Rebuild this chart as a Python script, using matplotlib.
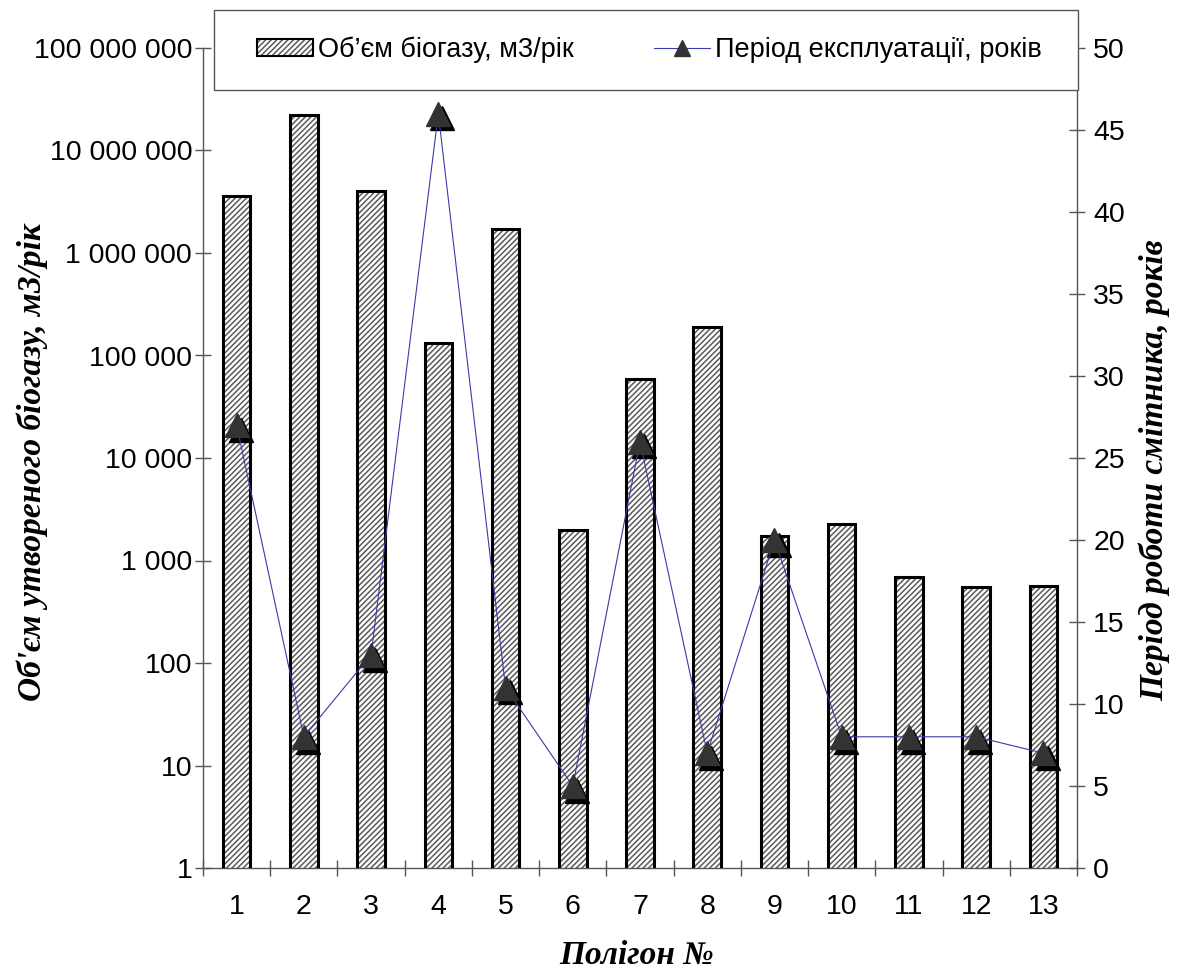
import matplotlib
matplotlib.use("Agg")
import matplotlib.pyplot as plt
import matplotlib.transforms as mtransforms
from matplotlib.ticker import FixedLocator, FuncFormatter, NullFormatter
from matplotlib.patches import Patch, Rectangle
from matplotlib.lines import Line2D
import numpy as np

# ---- data ----
polygons = [1, 2, 3, 4, 5, 6, 7, 8, 9, 10, 11, 12, 13]
biogas = [3.6e6, 2.2e7, 4.0e6, 1.32e5, 1.7e6, 2000, 5.9e4, 1.9e5, 1750, 2270, 690, 550, 565]
years = [27, 8, 13, 46, 11, 5, 26, 7, 20, 8, 8, 8, 7]

left_ticks = [1, 10, 100, 1000, 1e4, 1e5, 1e6, 1e7, 1e8]
right_ticks = [0, 5, 10, 15, 20, 25, 30, 35, 40, 45, 50]

bar_label = "Об’єм біогазу, м3/рік"
line_label = "Період експлуатації, років"
ylabel_left = "Об'єм утвореного біогазу, м3/рік"
ylabel_right = "Період роботи смітника, років"
xlabel = "Полігон №"

plt.rcParams['font.family'] = ['Liberation Sans', 'DejaVu Sans']
plt.rcParams['hatch.linewidth'] = 1.1

W, H = 1181, 971
fig = plt.figure(figsize=(W / 100, H / 100), dpi=100)
ax = fig.add_axes([203 / W, 1 - 868 / H, (1077 - 203) / W, (868 - 48) / H])
ax2 = ax.twinx()

axis_col = '#555555'
hatch_col = '#5a5a5a'
line_col = '#3a3aa8'
x = np.array(polygons)

# bars: hatch layer then black outline
ax.bar(x, biogas, width=0.41, bottom=0, facecolor='white', edgecolor=hatch_col,
       hatch='//////', linewidth=0, zorder=2)
ax.bar(x, biogas, width=0.41, bottom=0, fill=False, edgecolor='black',
       linewidth=2.2, zorder=3)
ax.set_yscale('log')
ax.set_ylim(1, 1e8)
ax.set_xlim(0.5, 13.5)

# line with shadowed markers
shadow_tr = mtransforms.offset_copy(ax2.transData, fig=fig, x=3.0, y=-3.5, units='points')
ax2.plot(x, years, linestyle='none', marker='^', markersize=17, color='black',
         transform=shadow_tr, zorder=3)
ax2.plot(x, years, color=line_col, linewidth=0.8, marker='^', markersize=17,
         markerfacecolor='#333333', markeredgecolor='#333333', zorder=4)
ax2.set_ylim(0, 50)

# spines
for a in (ax, ax2):
    a.spines['top'].set_visible(False)
    for s in ('left', 'right', 'bottom'):
        a.spines[s].set_color(axis_col)
        a.spines[s].set_linewidth(1.0)
ax.spines['right'].set_visible(False)
ax2.spines['left'].set_visible(False)
ax2.spines['bottom'].set_visible(False)

# ticks
tick_fs = 20.5
ax.yaxis.set_major_locator(FixedLocator(left_ticks))
ax.yaxis.set_minor_locator(FixedLocator([]))
ax.yaxis.set_major_formatter(FuncFormatter(lambda v, p: f"{int(round(v)):,}".replace(",", " ")))
ax.tick_params(axis='y', which='major', direction='inout', length=11.5, width=1,
               color=axis_col, labelsize=tick_fs, pad=2)
ax2.yaxis.set_major_locator(FixedLocator(right_ticks))
ax2.tick_params(axis='y', which='major', direction='inout', length=11.5, width=1,
                color=axis_col, labelsize=tick_fs, pad=6)

ax.xaxis.set_major_locator(FixedLocator(np.arange(0.5, 14.0, 1.0)))
ax.xaxis.set_major_formatter(NullFormatter())
ax.xaxis.set_minor_locator(FixedLocator(x))
ax.xaxis.set_minor_formatter(FuncFormatter(lambda v, p: f"{int(round(v))}"))
ax.tick_params(axis='x', which='major', direction='inout', length=11.5, width=1, color=axis_col)
ax.tick_params(axis='x', which='minor', length=0, labelsize=tick_fs, pad=19)

# axis labels
lab_font = dict(family=['Liberation Serif', 'DejaVu Serif'], fontweight='bold',
                fontstyle='italic', fontsize=24)
fig.text(637 / W, 1 - 955 / H, xlabel, ha='center', va='center', **lab_font)
fig.text(32 / W, 1 - 462 / H, ylabel_left, rotation=90, ha='center', va='center', **lab_font)
fig.text(1155 / W, 1 - 470 / H, ylabel_right, rotation=90, ha='center', va='center', **lab_font)

# legend frame and entries
fig.patches.append(Rectangle((214 / W, 1 - 90 / H), (1078 - 214) / W, 80 / H,
                             transform=fig.transFigure, facecolor='white',
                             edgecolor=axis_col, linewidth=1.0, zorder=5))
hb = Patch(facecolor='white', edgecolor=hatch_col, hatch='//////', linewidth=0)
hb2 = Patch(fill=False, edgecolor='black', linewidth=1.5)
hl = Line2D([], [], color=line_col, linewidth=0.8, marker='^', markersize=12,
            markerfacecolor='#333333', markeredgecolor='#333333')
leg = fig.legend([(hb, hb2), hl], [bar_label, line_label], ncol=2, mode='expand',
                 bbox_to_anchor=(257 / W, 1 - 80 / H, (1042 - 257) / W, 60 / H),
                 loc='center', fontsize=19.5, borderpad=0, borderaxespad=0,
                 handlelength=2.05, handleheight=0.55, handletextpad=0.2,
                 frameon=False)
leg.set_zorder(6)

fig.savefig('out.png', dpi=100)
